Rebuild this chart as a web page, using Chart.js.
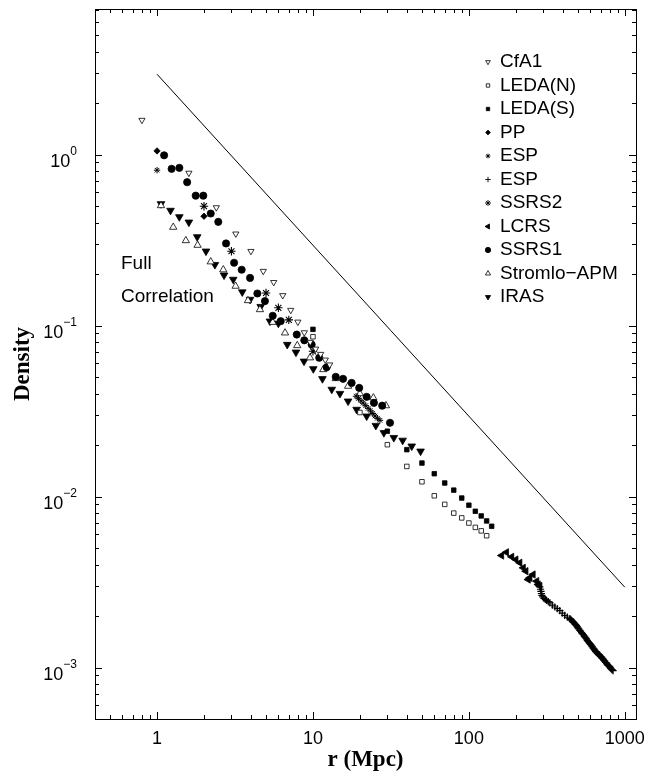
<!DOCTYPE html>
<html>
<head>
<meta charset="utf-8">
<script src="https://cdn.jsdelivr.net/npm/chart.js@4/dist/chart.umd.min.js"></script>
<style>
  body { margin: 0; background: #fff; }
</style>
</head>
<body>
<canvas id="myChart" width="649" height="781"></canvas>
<script>
// axis ticks
const xTickValues = [1, 10, 100, 1000];
const xTickLabels = ["1", "10", "100", "1000"];
const yTickExps = [0, -1, -2, -3];
const yTickExpLabels = ["0", "\u22121", "\u22122", "\u22123"];

// series (r in Mpc, density)
const cfa1R = [0.8, 1.6, 2.4, 3.2, 4.0, 4.8, 5.6, 6.4, 7.2, 8.0, 8.8, 9.6, 10.4, 11.2, 12.0, 12.8];
const cfa1D = [1.59, 0.78, 0.49, 0.344, 0.272, 0.208, 0.179, 0.150, 0.123, 0.105, 0.091, 0.080, 0.073, 0.068, 0.063, 0.059];

const ledaNR = [10, 20, 30, 40, 50, 60, 70, 80, 90, 100, 110, 120, 130];
const ledaND = [0.086, 0.031, 0.0201, 0.0150, 0.0122, 0.0101, 0.0090, 0.0080, 0.0075, 0.0070, 0.0066, 0.0063, 0.0059];

const ledaSR = [10, 30, 40, 50, 60, 70, 80, 90, 100, 110, 120, 130, 140];
const ledaSD = [0.095, 0.0241, 0.0188, 0.0157, 0.0136, 0.0120, 0.0109, 0.0098, 0.0089, 0.0082, 0.0077, 0.0072, 0.0067];

const ppR = [1.0, 2.0];
const ppD = [1.05, 0.436];

const esp1R = [1.0, 18.9, 19.6, 20.3, 21.0, 21.8, 22.6, 23.4, 24.2, 25.0, 25.9, 26.9];
const esp1D = [0.81, 0.0386, 0.0375, 0.0363, 0.0352, 0.0340, 0.0328, 0.0317, 0.0306, 0.0296, 0.0287, 0.0279];

const esp2R = [285, 288, 290, 292, 294, 298, 303, 309, 315, 323, 331, 343, 356, 369, 383, 397, 412, 428, 444, 450, 455,
  461, 466, 472, 478, 484, 490, 496, 502, 508, 515, 521, 528, 534, 541, 548, 554, 561, 568, 575, 582, 590, 597, 605,
  612, 620, 627, 635, 643, 651, 659, 667, 675, 683, 692, 700, 709, 717, 726, 735, 744, 753, 763, 772, 782, 792, 802,
  811, 821, 831, 841];
const esp2D = [0.00296, 0.00287, 0.00279, 0.00271, 0.00264, 0.00259, 0.00254, 0.00250, 0.00247, 0.00243, 0.00239,
  0.00232, 0.00226, 0.00221, 0.00215, 0.00208, 0.00202, 0.00197, 0.00193, 0.00191, 0.00189, 0.00187, 0.00185,
  0.00183, 0.00180, 0.00178, 0.00176, 0.00173, 0.00170, 0.00168, 0.00165, 0.00163, 0.00160, 0.00158, 0.00156,
  0.00153, 0.00151, 0.00149, 0.00147, 0.00144, 0.00142, 0.00140, 0.00138, 0.00136, 0.00134, 0.00132, 0.00130,
  0.00128, 0.00126, 0.00124, 0.00123, 0.00121, 0.00120, 0.00119, 0.00118, 0.00116, 0.00115, 0.00113, 0.00112,
  0.00110, 0.00109, 0.00107, 0.00106, 0.00104, 0.00103, 0.00102, 0.00101, 0.00099, 0.00098, 0.00097, 0.00096];

const ssrs2R = [2.0, 3.0, 5.0, 6.0, 7.0, 10.0];
const ssrs2D = [0.499, 0.272, 0.155, 0.127, 0.108, 0.0707];

const lcrsR = [162, 174, 188, 200, 212, 223, 232, 240, 246, 258, 272, 278, 285];
const lcrsD = [0.00452, 0.00472, 0.00444, 0.00428, 0.00410, 0.00383, 0.00366, 0.00327, 0.00335, 0.00350, 0.00320, 0.00306, 0.00300];

const ssrs1R = [1.11, 1.24, 1.39, 1.56, 1.77, 1.98, 2.21, 2.47, 2.77, 3.12, 3.49, 3.95, 4.4, 4.92, 5.52, 6.21, 7.87, 8.8,
  9.81, 10.97, 12.24, 14.0, 15.6, 17.7, 19.8, 22.1, 24.6, 27.8, 31.2];
const ssrs1D = [0.99, 0.825, 0.836, 0.689, 0.575, 0.575, 0.452, 0.404, 0.302, 0.233, 0.212, 0.19, 0.154, 0.139, 0.114, 0.106,
  0.0886, 0.082, 0.0774, 0.0648, 0.057, 0.0501, 0.0488, 0.0462, 0.0432, 0.0383, 0.0353, 0.034, 0.027];

const stromloR = [1.06, 1.27, 1.53, 1.82, 2.21, 2.66, 3.19, 3.83, 4.57, 5.52, 6.62, 7.93, 9.57, 11.65, 14.0, 16.8, 20.0, 24.4, 29.4];
const stromloD = [0.503, 0.376, 0.314, 0.295, 0.236, 0.212, 0.170, 0.140, 0.124, 0.1045, 0.0906, 0.0764, 0.0648, 0.0553,
  0.049, 0.0442, 0.040, 0.0378, 0.034];

const irasR = [1.06, 1.22, 1.39, 1.60, 1.81, 2.06, 2.35, 2.69, 3.08, 3.52, 3.95, 4.62, 5.30, 6.0, 6.84, 7.78, 8.76, 10.05,
  11.5, 13.2, 14.9, 16.8, 19.05, 22.1, 25.3, 28.5, 33.0, 37.6, 43.0, 49.0];
const irasD = [0.515, 0.471, 0.432, 0.402, 0.330, 0.272, 0.227, 0.197, 0.186, 0.157, 0.142, 0.129, 0.106, 0.103, 0.0774,
  0.0698, 0.0618, 0.0558, 0.0488, 0.0423, 0.040, 0.0361, 0.0323, 0.0295, 0.026, 0.0236, 0.0221, 0.0213, 0.0197, 0.0184];

// full correlation line
const lineR = [1, 1000];
const lineD = [2.95, 0.00295];

const pts = (r, d) => r.map((v, i) => ({ x: v, y: d[i] }));

function series(label, r, d, style, radius, rotation, filled, bw) {
  return {
    label: label,
    data: pts(r, d),
    pointStyle: style,
    pointRadius: radius,
    pointRotation: rotation,
    pointBackgroundColor: filled ? "#000" : "#fff",
    pointBorderColor: "#000",
    pointBorderWidth: bw,
    showLine: false
  };
}

const datasets = [
  series("CfA1", cfa1R, cfa1D, "triangle", 3.6, 180, false, 0.8),
  series("LEDA(N)", ledaNR, ledaND, "rect", 3.2, 0, false, 0.8),
  series("LEDA(S)", ledaSR, ledaSD, "rect", 3.2, 0, true, 0.8),
  series("PP", ppR, ppD, "rectRot", 3.2, 0, true, 0.8),
  series("ESP", esp1R, esp1D, "star", 3.2, 0, false, 1.0),
  series("ESP", esp2R, esp2D, "cross", 3.6, 0, false, 1.2),
  series("SSRS2", ssrs2R, ssrs2D, "star", 4.2, 0, false, 1.1),
  series("LCRS", lcrsR, lcrsD, "triangle", 4.2, 270, true, 0.8),
  series("SSRS1", ssrs1R, ssrs1D, "circle", 3.6, 0, true, 0.8),
  series("Stromlo\u2212APM", stromloR, stromloD, "triangle", 4.2, 0, false, 0.8),
  series("IRAS", irasR, irasD, "triangle", 4.4, 180, true, 0.8)
];

datasets.push({
  label: "line",
  data: pts(lineR, lineD),
  showLine: true,
  borderColor: "#000",
  borderWidth: 1,
  pointRadius: 0,
  fill: false
});

const SANS = '"Liberation Sans", Arial, sans-serif';
const SERIF = '"Liberation Serif", "Times New Roman", serif';

const framePlugin = {
  id: "frame",
  afterDraw(chart) {
    const ctx = chart.ctx;
    const a = chart.chartArea;
    const xs = chart.scales.x;
    const ys = chart.scales.y;
    ctx.save();
    ctx.strokeStyle = "#000";
    ctx.lineWidth = 1;
    ctx.strokeRect(Math.round(a.left) + 0.5, Math.round(a.top) + 0.5,
      Math.round(a.right - a.left), Math.round(a.bottom - a.top));

    // ticks, pointing inward on all four sides
    ctx.beginPath();
    for (let e = -1; e <= 3; e++) {
      for (let m = 1; m <= 9; m++) {
        const v = m * Math.pow(10, e);
        if (v < xs.min || v > xs.max) continue;
        const px = Math.round(xs.getPixelForValue(v)) + 0.5;
        const len = m === 1 ? 7 : 4;
        ctx.moveTo(px, a.bottom); ctx.lineTo(px, a.bottom - len);
        ctx.moveTo(px, a.top); ctx.lineTo(px, a.top + len);
      }
    }
    for (let e = -4; e <= 1; e++) {
      for (let m = 1; m <= 9; m++) {
        const v = m * Math.pow(10, e);
        if (v < ys.min || v > ys.max) continue;
        const py = Math.round(ys.getPixelForValue(v)) + 0.5;
        const len = m === 1 ? 7 : 4;
        ctx.moveTo(a.left, py); ctx.lineTo(a.left + len, py);
        ctx.moveTo(a.right, py); ctx.lineTo(a.right - len, py);
      }
    }
    ctx.stroke();

    // x tick labels
    ctx.fillStyle = "#000";
    ctx.font = "18px " + SANS;
    ctx.textAlign = "center";
    ctx.textBaseline = "alphabetic";
    xTickValues.forEach((v, i) => {
      ctx.fillText(xTickLabels[i], xs.getPixelForValue(v), 744);
    });

    // y tick labels 10^n
    yTickExps.forEach((e, i) => {
      const py = ys.getPixelForValue(Math.pow(10, e));
      ctx.font = "12px " + SANS;
      const we = ctx.measureText(yTickExpLabels[i]).width;
      ctx.textAlign = "right";
      ctx.fillText(yTickExpLabels[i], 77, py);
      ctx.font = "18px " + SANS;
      ctx.fillText("10", 77 - we, py + 12);
    });

    // axis titles
    ctx.font = "bold 23px " + SERIF;
    ctx.textAlign = "center";
    ctx.fillText("r (Mpc)", (a.left + a.right) / 2, 766);
    ctx.save();
    ctx.translate(29, (a.top + a.bottom) / 2);
    ctx.rotate(-Math.PI / 2);
    ctx.fillText("Density", 0, 0);
    ctx.restore();

    // annotation
    ctx.font = "19px " + SANS;
    ctx.textAlign = "left";
    ctx.textBaseline = "middle";
    ctx.fillText("Full", 121, 264);
    ctx.fillText("Correlation", 121, 297);

    // legend
    let ly = 62;
    chart.data.datasets.forEach(ds => {
      if (ds.label === "line") return;
      ctx.fillStyle = ds.pointBackgroundColor;
      ctx.strokeStyle = ds.pointBorderColor;
      ctx.lineWidth = Math.min(ds.pointBorderWidth, 0.9);
      Chart.helpers.drawPoint(ctx, {
        pointStyle: ds.pointStyle,
        radius: Math.min(ds.pointRadius, 4) * 0.75,
        rotation: ds.pointRotation,
        borderWidth: ds.pointBorderWidth
      }, 488, ly);
      ctx.fillStyle = "#000";
      ctx.fillText(ds.label, 500, ly);
      ly += 23.5;
    });
    ctx.restore();
  }
};

new Chart(document.getElementById("myChart").getContext("2d"), {
  type: "scatter",
  data: { datasets: datasets },
  options: {
    responsive: false,
    animation: false,
    layout: { padding: { left: 95, right: 13, top: 9, bottom: 62 } },
    plugins: { legend: { display: false }, tooltip: { enabled: false } },
    scales: {
      x: { type: "logarithmic", min: 0.4, max: 1180, display: false },
      y: { type: "logarithmic", min: 0.0005, max: 7.1, display: false }
    }
  },
  plugins: [framePlugin]
});
</script>
</body>
</html>
